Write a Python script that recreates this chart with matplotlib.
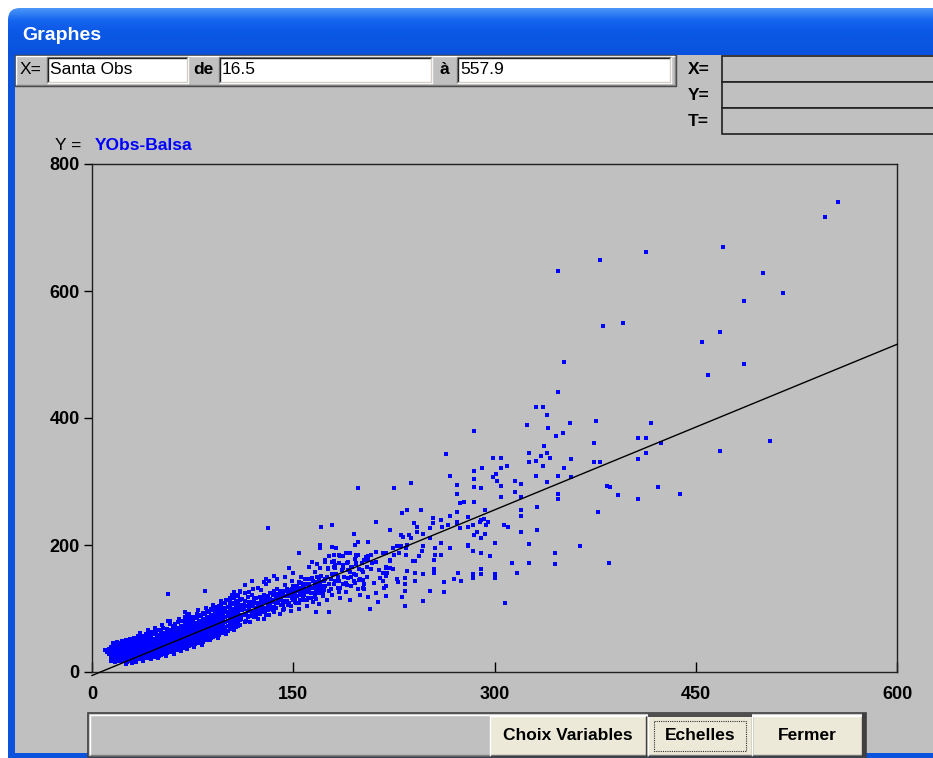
import numpy as np
import matplotlib.pyplot as plt
from matplotlib.patches import Rectangle, FancyBboxPatch
from matplotlib.colors import LinearSegmentedColormap

# ---- values: X = Santa Obs, Y = YObs-Balsa ----
# dense band at low values, given as (x, [y values]) columns
band_cols = [
    (12.5, [28, 33, 37]), (14, [24, 30, 35, 40]), (15.5, [21, 27, 32, 38, 43]),
    (17, [19, 25, 30, 35, 41]), (18.5, [18, 23, 28, 34, 39, 44]), (20, [17, 22, 27, 31, 36, 42]),
    (21.5, [18, 24, 29, 33, 38, 45]), (23, [17, 21, 26, 31, 36, 41]), (24.5, [18, 23, 28, 34, 39, 46]),
    (26, [16, 21, 26, 30, 35, 40, 47]), (27.5, [19, 24, 29, 33, 38, 43]), (29, [18, 22, 27, 32, 37, 42, 48]),
    (30.5, [20, 25, 30, 35, 40, 45]), (32, [19, 24, 28, 33, 39, 44, 50]), (33.5, [21, 26, 31, 36, 41, 47]),
    (35, [20, 25, 30, 34, 40, 45, 52]), (36.5, [22, 27, 32, 37, 43, 49]), (38, [21, 26, 31, 36, 41, 46, 53]),
    (39.5, [23, 28, 33, 38, 44, 50]), (41, [22, 27, 32, 37, 42, 48, 55]), (42.5, [24, 29, 34, 39, 45, 51, 58]),
    (44, [23, 28, 33, 38, 43, 49, 56]), (45.5, [25, 30, 35, 40, 46, 52]), (47, [24, 29, 34, 40, 45, 50, 60]),
    (48.5, [26, 31, 36, 42, 47, 54]), (50, [25, 30, 35, 41, 46, 52, 58]), (51.5, [27, 33, 38, 43, 49, 55, 63]),
    (53, [28, 32, 37, 44, 50, 57]), (54.5, [29, 34, 39, 45, 51, 56, 61]), (56, [30, 35, 41, 46, 52, 59]),
    (57.5, [31, 36, 42, 47, 53, 60, 66]), (59, [32, 37, 43, 49, 55, 62]), (60.5, [33, 38, 44, 50, 56, 61, 68]),
    (62, [34, 40, 45, 51, 57, 64]), (63.5, [35, 41, 47, 52, 58, 65, 70]), (65, [36, 42, 48, 54, 60, 66]),
    (66.5, [37, 43, 49, 55, 61, 67, 73]), (68, [38, 44, 50, 56, 62, 69]), (69.5, [39, 45, 51, 57, 63, 70, 76]),
    (71, [40, 46, 52, 58, 64, 71]), (72.5, [41, 47, 53, 59, 65, 72, 79]), (74, [42, 48, 54, 60, 66, 73]),
    (75.5, [43, 49, 56, 62, 68, 75, 82]), (77, [44, 50, 57, 63, 69, 76]), (78.5, [45, 52, 58, 64, 70, 77, 85]),
    (80, [46, 53, 59, 65, 72, 79]), (81.5, [47, 54, 60, 67, 73, 80, 88]), (83, [48, 55, 62, 68, 75, 82]),
    (84.5, [50, 56, 63, 70, 76, 84, 91]), (86, [51, 58, 64, 71, 78, 85]), (87.5, [52, 59, 66, 73, 80, 87, 95]),
    (89, [54, 61, 68, 74, 81, 89]), (90.5, [55, 62, 69, 76, 83, 90, 98]), (92, [57, 64, 71, 78, 85, 92]),
    (93.5, [58, 65, 72, 79, 86, 94, 102]), (95, [59, 67, 74, 81, 88, 96]), (96.5, [61, 68, 75, 83, 90, 98, 105]),
    (98, [62, 70, 77, 84, 92, 100]), (99.5, [64, 71, 79, 86, 94, 101, 109]), (101, [65, 73, 80, 88, 95, 103]),
    (102.5, [67, 74, 82, 89, 97, 105, 112]), (104, [68, 76, 83, 91, 99, 107]), (105.5, [70, 77, 85, 93, 100, 108, 116]),
    (107, [71, 79, 87, 94, 102, 110]), (108.5, [73, 80, 88, 96, 104, 112, 119]), (110, [74, 82, 90, 98, 106, 114]),
]

# ragged edges of the dense band
band_edge = [
    (16, 46), (19, 48), (22, 49), (25, 51), (28, 52), (31, 54), (34, 56), (37, 57), (40, 60), (43, 62),
    (45, 63), (48, 65), (50, 66), (53, 70), (56, 68), (60, 72), (62, 75), (64, 78), (67, 80), (70, 82),
    (73, 85), (75, 87), (78, 91), (80, 90), (83, 93), (86, 96), (89, 99), (92, 100), (95, 104), (97, 108),
    (100, 113), (103, 116), (106, 120), (108, 122), (36, 62), (47, 69), (58, 76), (71, 88), (85, 101),
    (25, 12), (30, 14), (33, 15), (38, 18), (44, 20), (49, 22), (55, 25), (61, 29), (66, 33), (71, 36),
    (76, 40), (82, 43), (88, 50), (94, 53), (100, 60), (106, 66), (14, 18), (17, 15), (11, 31), (10, 35),
    (58, 80), (65, 84), (72, 92), (79, 97), (90, 106), (96, 112), (104, 122), (110, 126), (42, 66), (52, 74),
]

# looser cloud, x 100 - 205
mid_pts = [
    (111, 84), (112, 97), (113, 106), (114, 78), (115, 92), (116, 118), (117, 101), (118, 88), (119, 110),
    (110, 128), (112, 115), (115, 81), (117, 126), (119, 95), (120, 104), (121, 86), (122, 117), (123, 99),
    (124, 133), (125, 91), (121, 108), (126, 112), (127, 102), (128, 121), (129, 94), (130, 138), (131, 107),
    (132, 89), (133, 115), (134, 125), (128, 84), (136, 103), (135, 97), (137, 118), (138, 130), (139, 109),
    (140, 92), (141, 122), (142, 112), (143, 100), (144, 137), (145, 119), (146, 105), (147, 129), (148, 96),
    (149, 144), (150, 114), (151, 124), (152, 108), (153, 135), (154, 99), (155, 121), (156, 150), (157, 128),
    (158, 113), (159, 138), (160, 104), (161, 126), (162, 146), (163, 117), (164, 133), (165, 110), (166, 158),
    (167, 124), (168, 140), (169, 107), (170, 131), (171, 151), (172, 119), (173, 143), (174, 135), (175, 113),
    (176, 162), (177, 128), (178, 147), (179, 121), (180, 138), (181, 168), (182, 155), (183, 132), (184, 144),
    (185, 117), (186, 160), (187, 139), (188, 150), (189, 126), (190, 171), (191, 148), (192, 158), (193, 135),
    (194, 165), (195, 143), (196, 178), (197, 152), (198, 130), (199, 162), (200, 147), (201, 172), (202, 157),
    (203, 139), (204, 181), (205, 166),
    (113, 90), (116, 96), (118, 104), (121, 94), (124, 103), (126, 98), (129, 114), (131, 118), (133, 104),
    (135, 122), (137, 108), (139, 123), (141, 105), (143, 127), (145, 112), (147, 119), (149, 131), (151, 117),
    (153, 128), (155, 133), (157, 118), (159, 127), (161, 139), (163, 124), (165, 144), (167, 131), (169, 147),
    (171, 136), (173, 129), (175, 150), (177, 139), (179, 154), (181, 144), (183, 150), (185, 133), (187, 163),
    (189, 140), (191, 161), (193, 149), (195, 155), (197, 170), (199, 145), (201, 160), (203, 176),
    (118, 79), (124, 84), (130, 90), (136, 95), (142, 98), (148, 104), (154, 109), (160, 114), (166, 118),
    (172, 124), (178, 130), (184, 126), (190, 137), (196, 140), (202, 132),
    (114, 125), (120, 131), (126, 129), (132, 143), (138, 147), (144, 150), (150, 156), (156, 140), (162, 165),
    (168, 170), (174, 177), (180, 175), (186, 182), (192, 188), (198, 185),
    (111, 99), (114, 112), (119, 121), (122, 101), (125, 108), (127, 117), (130, 101), (134, 110), (138, 116),
    (142, 121), (146, 127), (150, 122), (154, 127), (158, 134), (162, 130), (166, 137), (170, 141), (174, 146),
    (104, 95), (106, 88), (108, 101), (109, 93), (111, 106), (112, 89), (113, 100), (115, 104), (116, 87),
    (117, 110), (118, 96), (120, 92), (121, 115), (122, 90), (123, 108), (124, 96), (125, 118), (126, 105),
    (127, 94), (128, 110), (129, 101), (130, 120), (131, 97), (132, 112), (133, 124), (134, 100), (135, 113),
    (136, 127), (137, 101), (138, 121), (139, 115), (140, 128), (141, 113), (142, 105), (143, 119), (144, 111),
    (145, 131), (146, 121), (147, 108), (148, 124), (149, 117), (150, 136), (151, 110), (152, 129), (153, 119),
    (154, 141), (155, 114), (156, 126), (157, 137), (158, 121), (159, 146), (160, 129), (161, 117), (162, 138),
    (163, 132), (164, 148), (165, 125), (166, 141), (167, 115), (168, 150), (169, 134), (170, 124),
]

# single points, x 130 - 270
scatter_a = [
    (198, 289), (131, 226), (171, 229), (179, 231), (212, 237), (195, 218), (206, 205), (198, 205), (196, 200),
    (170, 200), (170, 195), (179, 197), (182, 195), (154, 187), (164, 174), (177, 182), (180, 184), (184, 184),
    (189, 187), (185, 182), (187, 182), (179, 174), (184, 171), (187, 169), (174, 174), (180, 166), (197, 184),
    (197, 182), (206, 182), (208, 184), (212, 189), (217, 187), (197, 171), (193, 166), (191, 174), (147, 163),
    (170, 163), (176, 163), (181, 163), (219, 166), (222, 176), (212, 174), (206, 176),
    (205, 150), (208, 162), (210, 140), (203, 130), (212, 125), (215, 148), (218, 133), (206, 118), (213, 110),
    (200, 121), (209, 172), (214, 160), (202, 145), (207, 99), (192, 113), (177, 95), (167, 95),
    (57, 123), (84, 128), (106, 126), (69, 94), (69, 87), (57, 81), (136, 151), (130, 146), (128, 142),
    (119, 144), (114, 137),
    (225, 289), (238, 297), (235, 255), (231, 250), (245, 255), (254, 242), (254, 234), (260, 239), (222, 224),
    (230, 216), (232, 213), (236, 216), (238, 211), (240, 234), (242, 229), (242, 221), (252, 226), (247, 218),
    (252, 211), (246, 190), (247, 198), (261, 229), (265, 231), (224, 195), (227, 198), (230, 198), (234, 195),
    (235, 200), (217, 187), (219, 187), (225, 185), (229, 187), (234, 185), (222, 175), (239, 175), (241, 175),
    (244, 182), (219, 164), (222, 164), (224, 162), (217, 156), (220, 156), (219, 151), (217, 143), (227, 146),
    (228, 141), (233, 148), (233, 138), (233, 128), (231, 118), (233, 104), (219, 135), (219, 120), (241, 156),
    (241, 143), (247, 154), (235, 159),
]

# single points, x 250 - 440
scatter_b = [
    (267, 309), (285, 317), (299, 307), (301, 312), (302, 301), (305, 293), (305, 276), (315, 301), (315, 283),
    (320, 296), (320, 276), (285, 304), (285, 291), (290, 289), (285, 268), (331, 309), (339, 299), (347, 309),
    (347, 281), (347, 273), (332, 260), (332, 224), (326, 201), (326, 172), (320, 255), (320, 245), (320, 221),
    (310, 229), (307, 231), (300, 203), (293, 255), (292, 241), (290, 239), (295, 236), (294, 231), (289, 236),
    (287, 221), (285, 216), (290, 211), (293, 218), (280, 244), (284, 231), (280, 229), (274, 226), (272, 252),
    (272, 236), (272, 234), (267, 245), (272, 281), (272, 294), (274, 266), (277, 268), (280, 200), (280, 198),
    (284, 190), (290, 187), (297, 182), (300, 154), (300, 148), (290, 162), (290, 154), (284, 154), (284, 148),
    (273, 156), (275, 143), (270, 146), (267, 195), (260, 203), (260, 185), (256, 195), (256, 185), (255, 177),
    (255, 162), (255, 156), (262, 141), (262, 126), (252, 128), (247, 112), (308, 108), (313, 172), (317, 156),
    (345, 187), (345, 170), (364, 198), (385, 172), (377, 252), (384, 293), (386, 291), (392, 278), (407, 273),
    (422, 291), (438, 281), (357, 307),
]

# upper scatter and outliers
scatter_c = [
    (556, 740), (546, 717), (470, 670), (413, 662), (379, 649), (347, 631), (500, 628), (515, 597), (486, 584),
    (396, 550), (381, 545), (468, 535), (455, 519), (352, 488), (486, 485), (459, 467), (347, 441), (331, 418),
    (336, 418), (339, 405), (324, 389), (356, 392), (376, 395), (417, 392), (285, 379), (340, 384), (346, 372),
    (351, 376), (407, 369), (413, 369), (374, 361), (424, 361), (505, 364), (264, 343), (337, 356), (326, 345),
    (339, 345), (335, 340), (341, 337), (299, 337), (305, 337), (413, 345), (468, 348), (407, 335), (357, 335),
    (326, 330), (331, 332), (374, 330), (379, 330), (291, 322), (305, 322), (309, 325), (336, 325), (352, 322),
]

# fitted line end points
fit_x = [0, 600]
fit_y = [-5.5, 516]

x_ticks = [0, 150, 300, 450, 600]
y_ticks = [0, 200, 400, 600, 800]

x_name = 'Santa Obs'
x_from = '16.5'
x_to = '557.9'
y_name = 'YObs-Balsa'

# expand the data
xs, ys = [], []
for x, yl in band_cols:
    xs += [x] * len(yl)
    ys += yl
for pts in (band_edge, mid_pts, scatter_a, scatter_b, scatter_c):
    xs += [p[0] for p in pts]
    ys += [p[1] for p in pts]

W, H = 933, 758
GRAY = '#c0c0c0'
plt.rcParams['font.family'] = ['Liberation Sans']

fig = plt.figure(figsize=(W / 100, H / 100), dpi=100)
fig.patch.set_facecolor('white')

# background axes in pixel coordinates for the window frame
bg = fig.add_axes([0, 0, 1, 1])
bg.set_xlim(0, W)
bg.set_ylim(H, 0)
bg.axis('off')


def rect(x0, y0, x1, y1, fc, ec='none', lw=1, **kw):
    r = Rectangle((x0, y0), x1 - x0, y1 - y0, facecolor=fc, edgecolor=ec, linewidth=lw, **kw)
    bg.add_patch(r)
    return r


def bevel(x0, y0, x1, y1, tl, br, lw=1):
    bg.plot([x0, x0, x1], [y1, y0, y0], color=tl, lw=lw, solid_capstyle='butt', zorder=3)
    bg.plot([x0, x1, x1], [y1, y1, y0], color=br, lw=lw, solid_capstyle='butt', zorder=3)


# blue window border and title bar
rect(8, 30, W + 5, H + 5, '#0b52dc')
grad = np.linspace(0, 1, 60).reshape(-1, 1)
cmap = LinearSegmentedColormap.from_list('tb', ['#4a95f8', '#1665ef', '#0a58e6', '#0a56e2', '#0b52dc'])
clip = FancyBboxPatch((8, 8), W + 20, 80, boxstyle='round,pad=0,rounding_size=12',
                      transform=bg.transData, facecolor='none', edgecolor='none')
bg.add_patch(clip)
im = bg.imshow(grad, extent=(8, W + 5, 55, 8), cmap=cmap, aspect='auto', zorder=1)
im.set_clip_path(clip)
bg.text(22, 35, 'Graphes', color='white', fontsize=14, fontweight='bold', va='center', ha='left', zorder=3)

# gray client area
rect(15, 55, W + 5, 753, GRAY, zorder=2)

# top row: variable and range fields
rect(15, 55, 676, 86, GRAY, ec='#404040', zorder=2)
bevel(16, 56, 675, 85, 'white', '#808080')
bg.text(20, 70, 'X=', fontsize=12.5, va='center', zorder=3)
bg.text(193, 70, 'de', fontsize=12.5, fontweight='bold', va='center', zorder=3)
bg.text(439, 70, 'à', fontsize=12.5, fontweight='bold', va='center', zorder=3)
for (a, b, t) in [(47, 188, x_name), (219, 432, x_from), (457, 671, x_to)]:
    rect(a, 57, b, 83, 'white', zorder=2)
    bevel(a, 57, b, 83, '#808080', 'white')
    bevel(a + 1, 58, b - 1, 82, '#202020', '#d4d0c8')
    bg.text(a + 3, 70, t, fontsize=12.5, va='center', zorder=3)

# cursor read-out boxes at the right
for i, lab in enumerate(['X=', 'Y=', 'T=']):
    y0 = 56 + i * 26
    bg.text(688, y0 + 13, lab, fontsize=12.5, fontweight='bold', va='center', zorder=3)
    rect(722, y0, W + 5, y0 + 26, GRAY, ec='#202020', lw=1.2, zorder=2)

# Y variable name above the plot
bg.text(55, 146, 'Y =', fontsize=12.5, va='center', zorder=3)
bg.text(95, 146, y_name, fontsize=12.5, fontweight='bold', color='#0000ff', va='center', zorder=3)

# bottom button bar
rect(88, 713, 866, 757, GRAY, ec='#404040', lw=1.2, zorder=2)
bevel(90, 715, 864, 755, 'white', '#808080')
for (a, b, t) in [(490, 646, 'Choix Variables'), (648, 752, 'Echelles'), (752, 862, 'Fermer')]:
    rect(a, 716, b, 756, '#ece9d8', zorder=2)
    bevel(a, 716, b, 756, 'white', '#404040')
    bg.text((a + b) / 2, 736, t, fontsize=12.5, fontweight='bold', ha='center', va='center', zorder=3)
r = Rectangle((654, 721), 92, 30, facecolor='none', edgecolor='#303030', lw=0.8, ls=(0, (1, 1)), zorder=3)
bg.add_patch(r)
rect(648, 713, 752, 717, '#505050', zorder=3)
rect(862, 713, 866, 757, '#404040', zorder=3)

# scatter plot
ax = fig.add_axes([92 / W, 1 - 672 / H, 805 / W, 508 / H])
ax.set_facecolor(GRAY)
ax.plot(xs, ys, 's', color='#0000ff', ms=2.3, mew=0, zorder=2)
ax.plot(fit_x, fit_y, color='black', lw=1.0, zorder=3, clip_on=False)
ax.set_xlim(0, 600)
ax.set_ylim(0, 800)
ax.set_xticks(x_ticks)
ax.set_yticks(y_ticks)
ax.tick_params(axis='x', direction='in', length=7, width=1, pad=10, labelsize=13)
ax.tick_params(axis='y', direction='out', length=6, width=1, pad=3, labelsize=13)
for lab in ax.get_xticklabels() + ax.get_yticklabels():
    lab.set_fontweight('bold')
for s in ax.spines.values():
    s.set_linewidth(1.0)
    s.set_color('#202020')

fig.savefig('out.png', dpi=100, facecolor=fig.get_facecolor())
